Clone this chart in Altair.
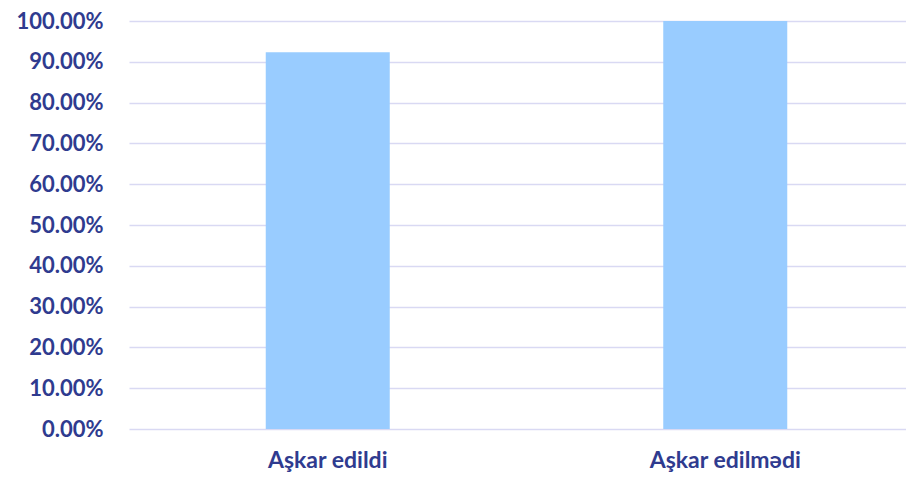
import altair as alt
import pandas as pd

categories = ["Aşkar edildi", "Aşkar edilmədi"]
values = [0.9237, 1.0]

df = pd.DataFrame({"cat": categories, "val": values})

chart = alt.Chart(df).mark_bar(color="#99CCFF", size=124).encode(
    x=alt.X("cat:N", sort=categories, title=None,
            scale=alt.Scale(paddingInner=0, paddingOuter=0, range=[0, 795]),
            axis=alt.Axis(labelAngle=0, labelPadding=20, ticks=False, domain=False,
                          grid=False, labelFontSize=23)),
    y=alt.Y("val:Q", title=None,
            scale=alt.Scale(domain=[0, 1]),
            axis=alt.Axis(format=".2%", values=[i / 10 for i in range(11)],
                          ticks=False, domain=False, labelPadding=26,
                          gridColor="#D9D9F3", gridWidth=1.5, labelFontSize=22)),
).properties(
    width=777, height=408,
    autosize=alt.AutoSizeParams(type="none"),
    padding={"left": 121, "top": 13, "right": 0, "bottom": 48},
).configure_axis(
    labelFont="Lato", labelFontWeight="bold", labelColor="#2F3B8F",
).configure_view(stroke=None)

chart.save("out.html", embed_options={"renderer": "svg", "actions": False})
